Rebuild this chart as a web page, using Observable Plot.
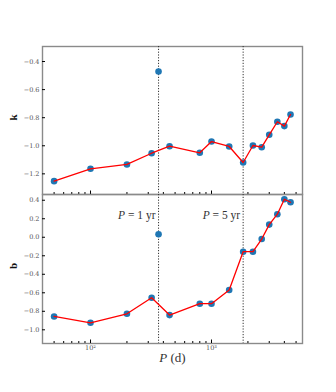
<!DOCTYPE html>
<html><head><meta charset="utf-8">
<script src="https://cdn.jsdelivr.net/npm/d3@7"></script>
<script src="https://cdn.jsdelivr.net/npm/@observablehq/plot@0.6"></script>
<style>
body{margin:0;background:#fff;}
#c{position:relative;width:336px;height:392px;}
#c svg{position:absolute;left:0;overflow:visible;}
</style></head><body><div id="c"></div>
<script>
// ---- data ----
const periods = [50, 100, 200, 320, 450, 800, 1000, 1400, 1826, 2200, 2600, 3000, 3500, 4000, 4500];
const kValues = [-1.252, -1.164, -1.133, -1.053, -1.003, -1.050, -0.970, -1.005, -1.119, -0.998, -1.010, -0.922, -0.829, -0.860, -0.777];
const bValues = [-0.856, -0.924, -0.827, -0.653, -0.841, -0.718, -0.718, -0.570, -0.156, -0.156, -0.019, 0.137, 0.249, 0.411, 0.378];
const outlierP = [365];
const outlierK = [-0.471];
const outlierB = [0.032];
const markerP = [365, 1826];
const markerLabels = ["P = 1 yr", "P = 5 yr"];
const markerLabelB = 0.234;
const kTicks = [-1.2, -1.0, -0.8, -0.6, -0.4];
const bTicks = [-1.0, -0.8, -0.6, -0.4, -0.2, 0.0, 0.2, 0.4];
const xMajor = [100, 1000];
const xMajorLabels = ["10²", "10³"];
const xMinor = [50, 60, 70, 80, 90, 200, 300, 400, 500, 600, 700, 800, 900, 2000, 3000, 4000, 5000];
const xDomain = [40.1, 5650];
const kDomain = [-1.347, -0.293];
const bDomain = [-1.148, 0.462];

const rows = periods.map((P, i) => ({P, k: kValues[i], b: bValues[i]}));
const outliers = outlierP.map((P, i) => ({P, k: outlierK[i], b: outlierB[i]}));
const markers = markerP.map((P, i) => ({P, label: markerLabels[i], b: markerLabelB}));

const font = "Liberation Serif";
const tickFont = "DejaVu Serif";
const fmt = (d) => d3.format(".1f")(d).replace("-", "\u2212");

function panel({key, domain, ticks, yLabel, height, marginTop, marginBottom, bottom}) {
  const marks = [
    Plot.frame({stroke: "#8a8a8a", strokeWidth: 1.4}),
    Plot.ruleX(markers, {x: "P", stroke: "#333", strokeWidth: 1, strokeDasharray: "1.2,1.6"}),
    Plot.dot(rows, {x: "P", y: key, r: 3.3, fill: "#1f77b4"}),
    Plot.dot(outliers, {x: "P", y: key, r: 3.3, fill: "#1f77b4"}),
    Plot.line(rows, {x: "P", y: key, stroke: "#ff0000", strokeWidth: 1.3}),
    Plot.axisY(ticks, {anchor: "left", tickSize: -3, tickPadding: 6, tickFormat: fmt, fontSize: 6.5, fontFamily: tickFont, fill: "#555", label: null}),
    Plot.axisX(xMinor, {anchor: "bottom", tickSize: -2, tickFormat: () => "", label: null}),
    Plot.axisX(xMajor, {anchor: "bottom", tickSize: -3.5, tickPadding: 5, tickFormat: (d) => bottom ? xMajorLabels[xMajor.indexOf(d)] : "", fontSize: 6.5, fontFamily: tickFont, fill: "#555", label: null}),
    Plot.text([yLabel], {frameAnchor: "left", rotate: -90, dx: -29, text: (d) => d, fontSize: 11, fontWeight: "bold", fill: "#111"})
  ];
  if (bottom) {
    marks.push(Plot.text(markers, {x: "P", y: "b", text: "label", textAnchor: "end", dx: -3, fontSize: 11.5, fill: "#333"}));
    marks.push(Plot.text(["P (d)"], {frameAnchor: "bottom", dy: 18, text: (d) => d, fontSize: 13, fill: "#333"}));
  }
  return Plot.plot({
    width: 336, height, marginTop, marginBottom, marginLeft: 42, marginRight: 34,
    style: {fontFamily: font, background: "transparent"},
    x: {type: "log", domain: xDomain, axis: null},
    y: {domain, axis: null},
    marks
  });
}

const container = document.getElementById("c");
const topPanel = panel({key: "k", domain: kDomain, ticks: kTicks, yLabel: "k", height: 194, marginTop: 46, marginBottom: 0, bottom: false});
topPanel.style.top = "0px";
const bottomPanel = panel({key: "b", domain: bDomain, ticks: bTicks, yLabel: "b", height: 198, marginTop: 0, marginBottom: 49, bottom: true});
bottomPanel.style.top = "194px";
container.append(topPanel, bottomPanel);

const ns = "http://www.w3.org/2000/svg";
container.querySelectorAll("text").forEach((t) => {
  if (/^P /.test(t.textContent)) {
    const rest = t.textContent.slice(1);
    t.textContent = "";
    const a = document.createElementNS(ns, "tspan");
    a.setAttribute("font-style", "italic");
    a.textContent = "P";
    t.append(a, rest);
  }
});
</script></body></html>
